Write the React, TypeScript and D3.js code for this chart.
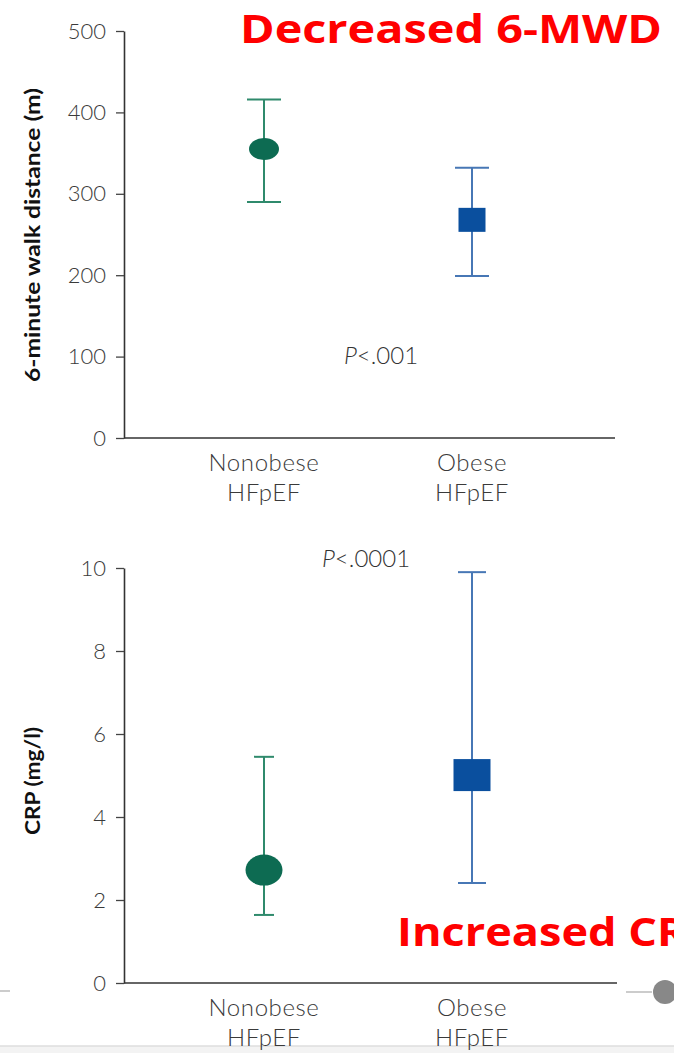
import React, { useEffect, useRef } from 'react';
import * as d3 from 'd3';

// groups on the x axis (two-line labels)
const groups = ['Nonobese HFpEF', 'Obese HFpEF'];
const groupLines = [['Nonobese', 'HFpEF'], ['Obese', 'HFpEF']];

// 6-minute walk distance (m): mean, lower, upper
const walkMean = [355, 268];
const walkLow = [290, 199];
const walkHigh = [416, 332];
const walkTicks = [0, 100, 200, 300, 400, 500];

// CRP (mg/l): mean, lower, upper
const crpMean = [2.72, 5.01];
const crpLow = [1.64, 2.41];
const crpHigh = [5.45, 9.9];
const crpTicks = [0, 2, 4, 6, 8, 10];

const W = 674;
const H = 1053;
const tickFont = 'Lato, "Open Sans", sans-serif';
const green = '#0d6b52';
const greenBar = '#2f8a6c';
const blue = '#0a4f9e';
const blueBar = '#4777b5';

const App = () => {
  const ref = useRef<SVGSVGElement>(null);

  useEffect(() => {
    const svg = d3.select(ref.current);
    svg.selectAll('*').remove();

    // page chrome under everything
    svg.append('rect').attr('x', 0).attr('y', 1046).attr('width', W).attr('height', 7).attr('fill', '#f3f3f3');
    svg.append('line').attr('x1', 0).attr('x2', W).attr('y1', 1046).attr('y2', 1046)
      .attr('stroke', '#dedede').attr('stroke-width', 1.5);

    const x = d3.scalePoint<string>().domain(groups).range([264, 472]);

    const drawPanel = (opts: any) => {
      const { y, ticks, mean, low, high, yTitle, titleLen, xEnd, markers, pText, pX, pY, catY } = opts;
      const g = svg.append('g');

      // y axis
      const axis = d3.axisLeft(y).tickValues(ticks).tickSize(8).tickSizeOuter(0).tickPadding(10);
      const ga = g.append('g').attr('transform', 'translate(124,0)').call(axis);
      ga.select('.domain').attr('stroke', '#333').attr('stroke-width', 1.6);
      ga.selectAll('.tick line').attr('stroke', '#444').attr('stroke-width', 1.3);
      ga.selectAll('.tick text')
        .attr('fill', '#3a3a3a')
        .style('font-family', tickFont)
        .style('font-size', '22px')
        .style('font-weight', 300);

      // x axis line
      g.append('line')
        .attr('x1', 124).attr('x2', xEnd)
        .attr('y1', y(0)).attr('y2', y(0))
        .attr('stroke', '#333').attr('stroke-width', 1.6);

      // y title
      g.append('text')
        .attr('transform', `translate(40,${opts.titleY}) rotate(-90)`)
        .attr('text-anchor', 'middle')
        .attr('textLength', titleLen)
        .attr('lengthAdjust', 'spacingAndGlyphs')
        .style('font-family', tickFont)
        .style('font-size', '21px')
        .style('font-weight', 700)
        .attr('fill', '#111')
        .text(yTitle);

      // category labels
      groups.forEach((grp, i) => {
        const t = g.append('text')
          .attr('text-anchor', 'middle')
          .attr('fill', '#3a3a3a')
          .style('font-family', tickFont)
          .style('font-size', '24px')
          .style('letter-spacing', '0.6px')
          .style('font-weight', 300);
        groupLines[i].forEach((line, j) => {
          t.append('tspan').attr('x', x(grp)).attr('y', catY + j * 30).text(line);
        });
      });

      // error bars + markers
      groups.forEach((grp, i) => {
        const cx = x(grp) as number;
        const col = i === 0 ? greenBar : blueBar;
        const m = markers[i];
        g.append('line')
          .attr('x1', cx).attr('x2', cx)
          .attr('y1', y(low[i])).attr('y2', y(high[i]))
          .attr('stroke', col).attr('stroke-width', 2);
        [low[i], high[i]].forEach((v: number) => {
          g.append('line')
            .attr('x1', cx - m.cap).attr('x2', cx + m.cap)
            .attr('y1', y(v)).attr('y2', y(v))
            .attr('stroke', col).attr('stroke-width', 2);
        });
        if (i === 0) {
          g.append('ellipse')
            .attr('cx', cx).attr('cy', y(mean[i]))
            .attr('rx', m.w / 2).attr('ry', m.h / 2)
            .attr('fill', green);
        } else {
          g.append('rect')
            .attr('x', cx - m.w / 2).attr('y', y(mean[i]) - m.h / 2)
            .attr('width', m.w).attr('height', m.h)
            .attr('fill', blue);
        }
      });

      // p value
      const p = g.append('text')
        .attr('x', pX).attr('y', pY)
        .attr('text-anchor', 'middle')
        .attr('fill', '#333')
        .style('font-family', tickFont)
        .style('font-size', '24px')
        .style('font-weight', 300);
      p.append('tspan').style('font-style', 'italic').text('P');
      p.append('tspan').text(pText);
    };

    drawPanel({
      y: d3.scaleLinear().domain([0, 500]).range([438, 31]),
      ticks: walkTicks, mean: walkMean, low: walkLow, high: walkHigh,
      yTitle: '6-minute walk distance (m)', titleLen: 294, titleY: 235, xEnd: 615,
      markers: [{ w: 30, h: 22, cap: 17 }, { w: 27, h: 24, cap: 17 }],
      pText: '<.001', pX: 381, pY: 364, catY: 471,
    });

    drawPanel({
      y: d3.scaleLinear().domain([0, 10]).range([983, 568]),
      ticks: crpTicks, mean: crpMean, low: crpLow, high: crpHigh,
      yTitle: 'CRP (mg/l)', titleLen: 108, titleY: 781, xEnd: 617,
      markers: [{ w: 37, h: 31, cap: 10 }, { w: 37, h: 32, cap: 14 }],
      pText: '<.0001', pX: 366, pY: 567, catY: 1016,
    });

    // red annotations
    const red = (txt: string, xx: number, yy: number) =>
      svg.append('text')
        .attr('x', xx).attr('y', yy)
        .attr('fill', '#ff0000')
        .style('font-family', '"Open Sans", sans-serif')
        .style('font-size', '39px')
        .style('font-weight', 700)
        .text(txt);
    red('Decreased 6-MWD', 240, 43).attr('textLength', 422).attr('lengthAdjust', 'spacingAndGlyphs');
    red('Increased CRP', 397, 946).attr('textLength', 318).attr('lengthAdjust', 'spacingAndGlyphs');

    // slider bits at the edges
    svg.append('line').attr('x1', 0).attr('x2', 10).attr('y1', 991).attr('y2', 991)
      .attr('stroke', '#bbb').attr('stroke-width', 1.5);
    svg.append('line').attr('x1', 626).attr('x2', 652).attr('y1', 992).attr('y2', 992)
      .attr('stroke', '#bbb').attr('stroke-width', 1.5);
    svg.append('circle').attr('cx', 665).attr('cy', 992).attr('r', 12).attr('fill', '#888');
  }, []);

  return (
    <div style={{ position: 'absolute', left: 0, top: 0, width: W, height: H, background: '#fff' }}>
      <svg ref={ref} width={W} height={H} style={{ display: 'block' }} />
    </div>
  );
};

export default App;
